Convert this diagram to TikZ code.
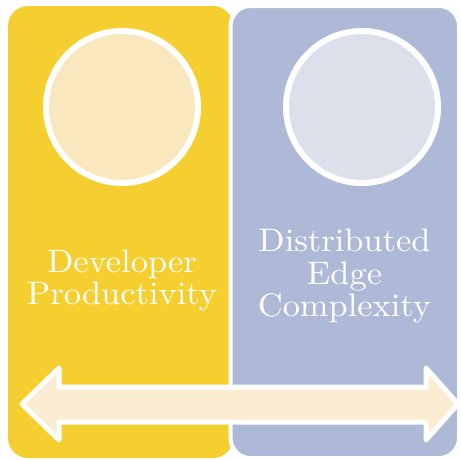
\documentclass[tikz,border=0pt]{standalone}
\usepackage{fontspec}
\setmainfont{lmroman10-regular}[Extension=.otf, FakeStretch=1.06]
\usepackage{tikz}
\definecolor{ygold}{HTML}{F5CE2F}
\definecolor{bgrey}{HTML}{ADB9D6}
\definecolor{ylight}{HTML}{F9E7BD}
\definecolor{blight}{HTML}{DCE0EB}
\definecolor{arrowfill}{HTML}{FBECD2}
\tikzset{
  panel/.style={rounded corners=20pt},
  bubble/.style={circle, draw=white, line width=6pt, minimum size=152pt, inner sep=0pt},
  label/.style={text=white, align=center, inner sep=0pt, font=\fontsize{32.5}{32.5}\selectfont},
}
\begin{document}
\begin{tikzpicture}[x=1pt,y=-1pt]
\useasboundingbox (0,0) rectangle (461,459);
% panels
\fill[ygold, panel] (8,6) rectangle (233,458);
\draw[white, line width=4pt, fill=bgrey, panel] (230.5,6) rectangle (459,458);
% circles
\node[bubble, fill=ylight] (c1) at (122,107) {};
\node[bubble, fill=blight] (c2) at (362,107) {};
% labels
\node[label] (t1) at (122,280.3) {Developer\\Productivity};
\node[label] (t2) at (344.5,276.4) {Distributed\\Edge\\Complexity};
% double arrow
\draw[white, line width=5pt, line join=round, fill=arrowfill]
  (22,404) -- (59,368) -- (59,387) -- (426,387) -- (426,368) -- (458,404)
  -- (426,440) -- (426,422) -- (59,422) -- (59,440) -- cycle;
\end{tikzpicture}
\end{document}
